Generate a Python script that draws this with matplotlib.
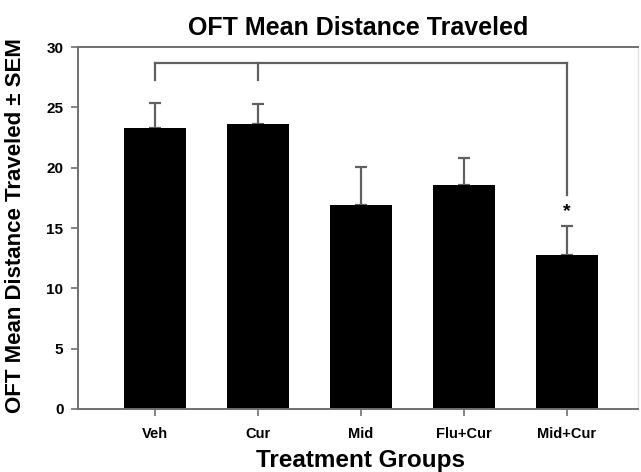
import matplotlib
matplotlib.use("Agg")
import matplotlib.pyplot as plt
import numpy as np

plt.rcParams['font.family'] = ['Liberation Sans', 'DejaVu Sans']

groups = ["Veh", "Cur", "Mid", "Flu+Cur", "Mid+Cur"]
means = [23.3, 23.6, 16.9, 18.6, 12.75]
sems = [2.1, 1.7, 3.15, 2.2, 2.45]
yticks = [0, 5, 10, 15, 20, 25, 30]

fig = plt.figure(figsize=(6.41, 4.72), dpi=100)
ax = fig.add_axes([78/641, 1-409/472, (638-78)/641, (409-47)/472])

x = np.arange(len(groups))
ax.bar(x, means, width=0.6, color='black', zorder=2)
ax.errorbar(x, means, yerr=[np.zeros(len(sems)), sems], fmt='none',
            ecolor='#606060', elinewidth=1.6, capsize=4, capthick=1.6, zorder=1)

# significance bracket
bc = '#606060'
ytop = 28.7
ax.plot([0, 4], [ytop, ytop], color=bc, lw=1.6)
ax.plot([0, 0], [27.25, ytop], color=bc, lw=1.6)
ax.plot([1, 1], [27.25, ytop], color=bc, lw=1.6)
ax.plot([4, 4], [17.7, ytop], color=bc, lw=1.6)
ax.text(4, 16.4, '*', ha='center', va='center', fontsize=14, fontweight='bold')

ax.set_xlim(-0.75, 4.69)
ax.set_ylim(0, 30)
ax.set_yticks(yticks)
ax.set_xticks(x)
ax.set_xticklabels(groups, fontsize=10.5, fontweight='bold')
ax.set_yticklabels([str(t) for t in yticks], fontsize=11, fontweight='bold')
for sp in ['left', 'bottom', 'top']:
    ax.spines[sp].set_color('#707070')
    ax.spines[sp].set_linewidth(1.4)
ax.spines['right'].set_color('#e0e0e0')
ax.spines['right'].set_linewidth(1.0)
ax.tick_params(axis='both', direction='out', color='#707070', width=1.2, length=5)
ax.tick_params(axis='x', pad=8)
ax.tick_params(axis='y', pad=5.5)

ax.set_title('OFT Mean Distance Traveled', fontsize=18, fontweight='bold', pad=9)
ax.set_xlabel('Treatment Groups', fontsize=17.5, fontweight='bold')
ax.xaxis.set_label_coords(0.505, -0.11)
ax.set_ylabel('OFT Mean Distance Traveled \u00b1 SEM', fontsize=16, fontweight='bold')
ax.yaxis.set_label_coords(-0.093, 0.508)

fig.savefig('out.png', dpi=100)
